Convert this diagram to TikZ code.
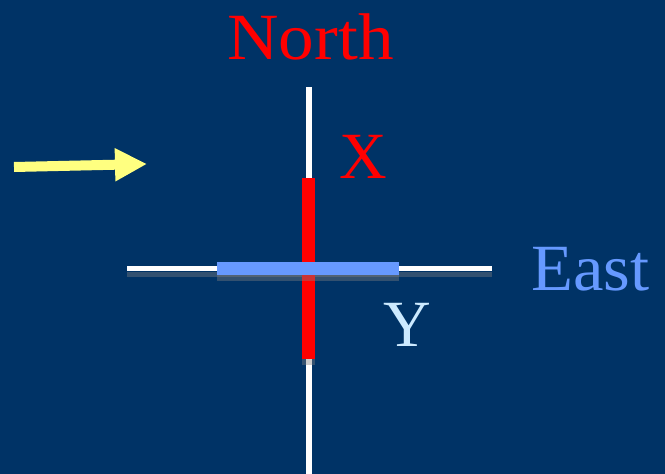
\documentclass[tikz,border=0pt]{standalone}
\usepackage{fontspec}
\setmainfont{Liberation Serif}
\usetikzlibrary{arrows.meta}
\definecolor{bgblue}{RGB}{0,51,102}
\definecolor{barblue}{RGB}{102,153,255}
\definecolor{ylabel}{RGB}{204,234,255}
\definecolor{arrowyellow}{RGB}{255,255,128}
\definecolor{shadowgray}{RGB}{128,128,128}
\tikzset{
  biglabel/.style={inner sep=0pt, anchor=base, font=\fontsize{66}{66}\selectfont},
  axisline/.style={draw=white, line width=5.5pt},
  shadowbox/.style={fill=shadowgray, fill opacity=0.4, draw=none},
}
\begin{document}
\begin{tikzpicture}[x=1pt,y=-1pt]
\useasboundingbox (0,0) rectangle (665,474);
\fill[bgblue] (0,0) rectangle (665,474);
% axis coordinates
\coordinate (ntop) at (309,87);
\coordinate (nbot) at (309,474);
\coordinate (wleft) at (127,268.5);
\coordinate (wright) at (492,268.5);
% axis shadows
\draw[draw=shadowgray, draw opacity=0.4, line width=5.5pt] ([yshift=-6pt]wleft) -- ([yshift=-6pt]wright);
% axes
\draw[axisline] (ntop) -- (nbot);
\draw[axisline] (wleft) -- (wright);
% red bar with shadow
\fill[shadowbox] (302,184) rectangle (315,365);
\fill[red] (302,178) rectangle (315,359);
% blue bar with shadow
\fill[shadowbox] (217,268) rectangle (399,281);
\fill[barblue] (217,262) rectangle (399,275);
% labels
\node[biglabel, text=red] (north) at (310.5,59) {\scalebox{1.08}[1]{North}};
\node[biglabel, text=red] (xlab) at (363,178) {X};
\node[biglabel, text=ylabel] (ylab) at (407,346) {Y};
\node[biglabel, text=barblue] (east) at (590.5,290) {\scalebox{1.04}[1]{East}};
% yellow arrow
\coordinate (astart) at (14,167);
\coordinate (aend) at (147,164);
\draw[arrowyellow, line width=10pt, -{Triangle[length=32pt,width=31pt]}] (astart) -- (aend);
\end{tikzpicture}
\end{document}
